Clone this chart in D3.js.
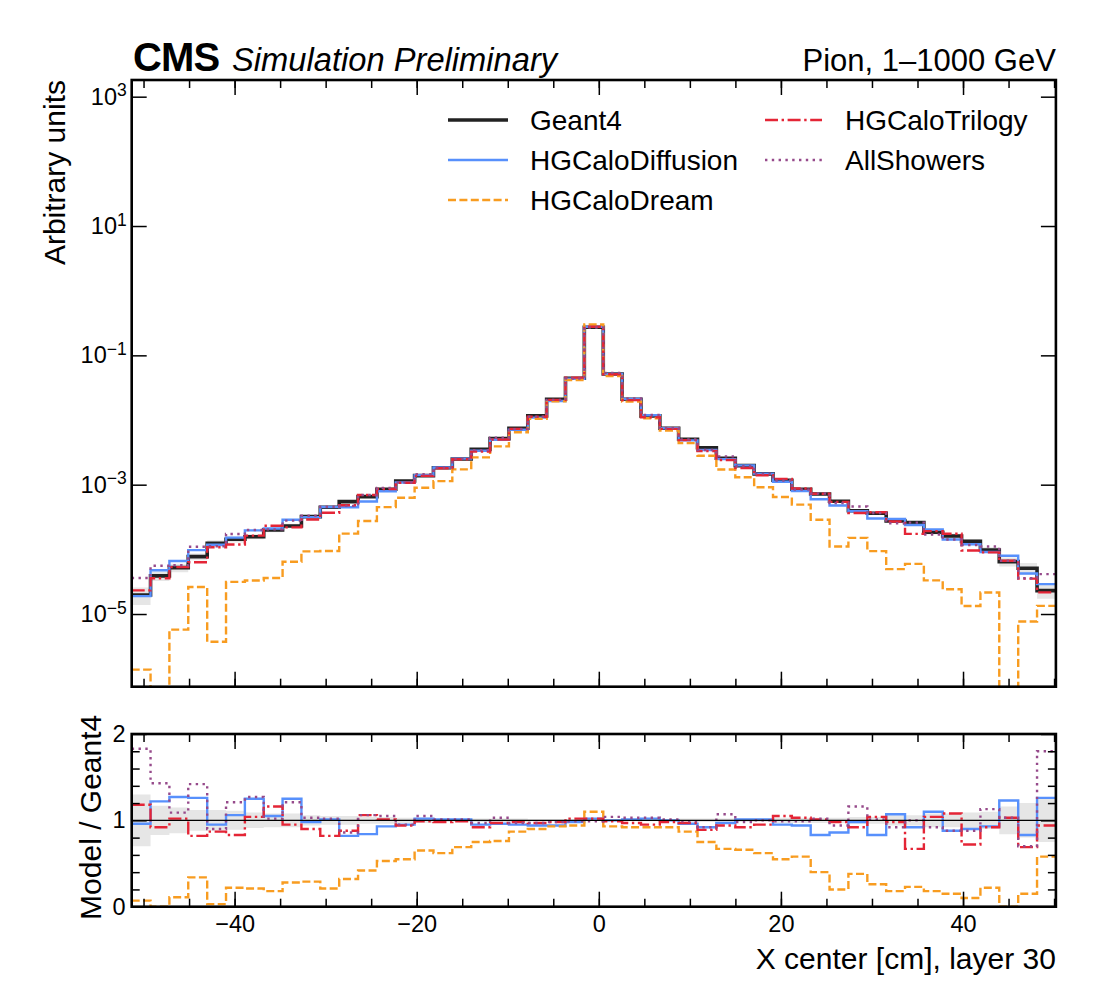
<!DOCTYPE html>
<html>
<head>
<meta charset="utf-8">
<script src="https://cdn.jsdelivr.net/npm/d3@7"></script>
<style>
  html, body { margin: 0; padding: 0; background: #fff; }
  svg { display: block; font-family: "Liberation Sans", Arial, Helvetica, sans-serif; }
</style>
</head>
<body>
<svg id="chart" width="1100" height="1008"></svg>
<script>
// ---------------- DATA ----------------
const xEdges = [-51.30, -49.23, -47.16, -45.09, -43.01, -40.94, -38.87, -36.80, -34.73, -32.66,
  -30.59, -28.51, -26.44, -24.37, -22.30, -20.23, -18.16, -16.09, -14.01, -11.94,
  -9.87, -7.80, -5.73, -3.66, -1.59, 0.49, 2.56, 4.63, 6.70, 8.77,
  10.84, 12.91, 14.99, 17.06, 19.13, 21.20, 23.27, 25.34, 27.41, 29.49,
  31.56, 33.63, 35.70, 37.77, 39.84, 41.91, 43.98, 46.06, 48.13, 50.20];

const geant4 = [1.97e-5, 3.89e-5, 5.21e-5, 7.71e-5, 1.24e-4, 1.43e-4, 1.57e-4, 2.00e-4, 2.30e-4, 3.21e-4,
  4.48e-4, 5.47e-4, 6.53e-4, 8.49e-4, 1.14e-3, 1.38e-3, 1.83e-3, 2.50e-3, 3.53e-3, 5.15e-3,
  7.45e-3, 1.16e-2, 2.09e-2, 4.43e-2, 0.272, 5.15e-2, 2.09e-2, 1.16e-2, 7.45e-3, 5.04e-3,
  3.73e-3, 2.56e-3, 1.97e-3, 1.47e-3, 1.17e-3, 8.49e-4, 7.18e-4, 5.53e-4, 3.96e-4, 3.61e-4,
  2.75e-4, 2.59e-4, 1.84e-4, 1.61e-4, 1.33e-4, 9.77e-5, 6.46e-5, 5.11e-5, 2.30e-5];

const geant4RelErr = [0.30, 0.17, 0.15, 0.12, 0.12, 0.11, 0.09, 0.08, 0.08, 0.06,
  0.05, 0.05, 0.04, 0.04, 0.03, 0.03, 0.02, 0.02, 0.02, 0.02,
  0.02, 0.01, 0.01, 0.01, 0.005, 0.01, 0.01, 0.01, 0.01, 0.02,
  0.02, 0.02, 0.02, 0.02, 0.03, 0.03, 0.03, 0.03, 0.04, 0.04,
  0.06, 0.06, 0.08, 0.08, 0.09, 0.10, 0.16, 0.20, 0.25];

// Model / Geant4 ratios per bin
const ratioDiffusion = [0.96, 1.22, 1.27, 1.26, 0.95, 1.06, 1.25, 1.05, 1.25, 0.98,
  1.01, 0.82, 0.84, 0.93, 0.95, 1.02, 1.01, 1.01, 0.95, 0.96,
  0.95, 0.94, 0.94, 0.98, 1.02, 1.00, 1.01, 1.02, 1.00, 0.96,
  0.92, 0.97, 1.01, 1.01, 0.95, 0.94, 0.83, 0.86, 0.98, 0.83,
  1.07, 0.92, 1.10, 0.88, 0.90, 0.93, 1.23, 0.83, 1.26];

const ratioDream = [0.07, 0, 0.11, 0.34, 0.03, 0.22, 0.21, 0.18, 0.28, 0.29,
  0.21, 0.32, 0.42, 0.53, 0.55, 0.65, 0.62, 0.69, 0.75, 0.76,
  0.87, 0.90, 0.93, 0.94, 1.10, 0.93, 0.92, 0.92, 0.92, 0.87,
  0.75, 0.67, 0.66, 0.62, 0.55, 0.58, 0.40, 0.20, 0.38, 0.26,
  0.18, 0.23, 0.18, 0.15, 0.10, 0.22, 0, 0.15, 0.58];

const ratioTrilogy = [1.18, 0.92, 1.02, 0.82, 0.87, 0.83, 1.04, 1.16, 0.95, 0.90,
  0.82, 0.88, 1.06, 1.01, 0.94, 0.99, 0.98, 0.99, 0.92, 0.97,
  0.98, 0.97, 0.98, 1.02, 1.02, 0.99, 0.97, 0.95, 0.98, 0.97,
  0.89, 0.94, 0.92, 0.95, 1.05, 1.03, 1.01, 0.98, 0.92, 1.04,
  0.98, 0.67, 1.04, 1.08, 0.72, 0.92, 1.03, 0.69, 0.94];

const ratioAllShowers = [1.83, 1.43, 1.09, 1.42, 0.90, 1.21, 1.27, 1.02, 1.21, 1.03,
  1.02, 0.86, 1.06, 1.05, 0.95, 1.05, 1.01, 1.01, 0.97, 1.03,
  0.97, 0.97, 0.98, 0.99, 0.99, 1.04, 1.03, 1.03, 1.01, 0.99,
  0.92, 1.07, 0.98, 1.00, 0.99, 0.99, 1.02, 0.94, 1.16, 1.01,
  0.92, 1.00, 0.92, 0.88, 0.88, 1.13, 1.03, 0.70, 1.80];

const xMajorTicks = [-40, -20, 0, 20, 40];
const xMinorTicks = [-50, -45, -40, -35, -30, -25, -20, -15, -10, -5, 0, 5, 10, 15, 20, 25, 30, 35, 40, 45, 50];
const yMainTicks = [1e-5, 1e-3, 1e-1, 1e1, 1e3];
const yRatioMajor = [0, 1, 2];
const yRatioMinor = [0.2, 0.4, 0.6, 0.8, 1.2, 1.4, 1.6, 1.8];

const models = [
  { name: "HGCaloDiffusion", ratio: ratioDiffusion, color: "#5790fc", dash: null },
  { name: "HGCaloDream", ratio: ratioDream, color: "#f89c20", dash: "8,3.4" },
  { name: "HGCaloTrilogy", ratio: ratioTrilogy, color: "#e42536", dash: "13,3.6,2.4,3.6" },
  { name: "AllShowers", ratio: ratioAllShowers, color: "#964a8b", dash: "2.4,4.4" }
];

// ---------------- LAYOUT ----------------
const L = 131.7, R = 1055.9;
const mainTop = 80, mainBot = 686.7;
const ratTop = 734, ratBot = 906.7;
const FONT = '"Liberation Sans", Arial, Helvetica, sans-serif';

const svg = d3.select("#chart");

const x = d3.scaleLinear().domain([-51.3, 50.2]).range([L, R]);
const yMain = d3.scaleLog().domain([Math.pow(10, -6.124), Math.pow(10, 3.258)]).range([mainBot, mainTop]);
const yRatio = d3.scaleLinear().domain([0, 2]).range([ratBot, ratTop]);

const defs = svg.append("defs");
defs.append("clipPath").attr("id", "clipMain").append("rect")
  .attr("x", L).attr("y", mainTop).attr("width", R - L).attr("height", mainBot - mainTop);
defs.append("clipPath").attr("id", "clipRatio").append("rect")
  .attr("x", L).attr("y", ratTop).attr("width", R - L).attr("height", ratBot - ratTop);

function stepPoints(vals, yScale, isLog, floorY) {
  return xEdges.map((e, i) => {
    const v = vals[Math.min(i, vals.length - 1)];
    let yy;
    if (isLog && !(v > 0)) yy = floorY;
    else yy = yScale(v);
    return [x(e), yy];
  });
}
const stepLine = d3.line().curve(d3.curveStepAfter);

// ---------------- MAIN PANEL ----------------
const gMain = svg.append("g").attr("clip-path", "url(#clipMain)");

const bandArea = d3.area().curve(d3.curveStepAfter)
  .x(d => d[0]).y0(d => d[1]).y1(d => d[2]);
const bandMain = xEdges.map((e, i) => {
  const k = Math.min(i, geant4.length - 1);
  const v = geant4[k], err = geant4RelErr[k];
  return [x(e), yMain(Math.max(v * (1 - err), 1e-9)), yMain(v * (1 + err))];
});
gMain.append("path").attr("d", bandArea(bandMain)).attr("fill", "#e6e6e6").attr("stroke", "none");

gMain.append("path")
  .attr("d", stepLine(stepPoints(geant4, yMain, true, mainBot + 80)))
  .attr("fill", "none").attr("stroke", "#222222").attr("stroke-width", 3.6);

models.forEach(m => {
  const vals = geant4.map((g, i) => g * m.ratio[i]);
  gMain.append("path")
    .attr("d", stepLine(stepPoints(vals, yMain, true, mainBot + 80)))
    .attr("fill", "none").attr("stroke", m.color).attr("stroke-width", 2.4)
    .attr("stroke-dasharray", m.dash);
});

// ---------------- RATIO PANEL ----------------
const gRat = svg.append("g").attr("clip-path", "url(#clipRatio)");
const bandRat = xEdges.map((e, i) => {
  const k = Math.min(i, geant4.length - 1);
  const err = geant4RelErr[k];
  return [x(e), yRatio(1 - err), yRatio(1 + err)];
});
gRat.append("path").attr("d", bandArea(bandRat)).attr("fill", "#e6e6e6").attr("stroke", "none");

models.forEach(m => {
  gRat.append("path")
    .attr("d", stepLine(stepPoints(m.ratio, yRatio, false, 0)))
    .attr("fill", "none").attr("stroke", m.color).attr("stroke-width", 2.4)
    .attr("stroke-dasharray", m.dash);
});
gRat.append("line")
  .attr("x1", L).attr("x2", R).attr("y1", yRatio(1)).attr("y2", yRatio(1))
  .attr("stroke", "#000").attr("stroke-width", 1.3);

// ---------------- AXES ----------------
function styleAxis(g, fontSize) {
  g.select(".domain").remove();
  g.selectAll(".tick line").attr("stroke", "#000").attr("stroke-width", 1.5);
  g.selectAll(".tick text").attr("font-family", FONT).attr("font-size", fontSize).attr("fill", "#000");
}
const MAJ = 15, MIN = 8;

[[mainBot, d3.axisBottom], [mainTop, d3.axisTop]].forEach(([yy, ax]) => {
  svg.append("g").attr("transform", `translate(0,${yy})`)
    .call(ax(x).tickValues(xMinorTicks).tickSize(-MIN).tickFormat(""))
    .call(g => styleAxis(g, 23));
  svg.append("g").attr("transform", `translate(0,${yy})`)
    .call(ax(x).tickValues(xMajorTicks).tickSize(-MAJ).tickFormat(""))
    .call(g => styleAxis(g, 23));
});
svg.append("g").attr("transform", `translate(0,${ratTop})`)
  .call(d3.axisTop(x).tickValues(xMinorTicks).tickSize(-MIN).tickFormat(""))
  .call(g => styleAxis(g, 23));
svg.append("g").attr("transform", `translate(0,${ratTop})`)
  .call(d3.axisTop(x).tickValues(xMajorTicks).tickSize(-MAJ).tickFormat(""))
  .call(g => styleAxis(g, 23));
svg.append("g").attr("transform", `translate(0,${ratBot})`)
  .call(d3.axisBottom(x).tickValues(xMinorTicks).tickSize(-MIN).tickFormat(""))
  .call(g => styleAxis(g, 23));
svg.append("g").attr("transform", `translate(0,${ratBot})`)
  .call(d3.axisBottom(x).tickValues(xMajorTicks).tickSize(-MAJ).tickPadding(9)
    .tickFormat(d => d < 0 ? "\u2212" + Math.abs(d) : String(d)))
  .call(g => styleAxis(g, 23.5));

const gyL = svg.append("g").attr("transform", `translate(${L},0)`)
  .call(d3.axisLeft(yMain).tickValues(yMainTicks).tickSize(-MAJ).tickPadding(5).tickFormat(() => ""))
  .call(g => styleAxis(g, 23.5));
gyL.selectAll(".tick text").each(function (d) {
  const e = Math.round(Math.log10(d));
  const t = d3.select(this);
  t.text(null);
  t.append("tspan").text("10");
  t.append("tspan").attr("dy", "-0.48em").attr("font-size", 17.5)
    .text(e < 0 ? "\u2212" + Math.abs(e) : String(e));
});
svg.append("g").attr("transform", `translate(${R},0)`)
  .call(d3.axisRight(yMain).tickValues(yMainTicks).tickSize(-MAJ).tickFormat(""))
  .call(g => styleAxis(g, 23));

svg.append("g").attr("transform", `translate(${L},0)`)
  .call(d3.axisLeft(yRatio).tickValues(yRatioMinor).tickSize(-MIN).tickFormat(""))
  .call(g => styleAxis(g, 23));
svg.append("g").attr("transform", `translate(${L},0)`)
  .call(d3.axisLeft(yRatio).tickValues(yRatioMajor).tickSize(-MAJ).tickPadding(6).tickFormat(d3.format("d")))
  .call(g => styleAxis(g, 23.5));
svg.append("g").attr("transform", `translate(${R},0)`)
  .call(d3.axisRight(yRatio).tickValues(yRatioMinor).tickSize(-MIN).tickFormat(""))
  .call(g => styleAxis(g, 23));
svg.append("g").attr("transform", `translate(${R},0)`)
  .call(d3.axisRight(yRatio).tickValues(yRatioMajor).tickSize(-MAJ).tickFormat(""))
  .call(g => styleAxis(g, 23));

svg.append("rect").attr("x", L).attr("y", mainTop).attr("width", R - L).attr("height", mainBot - mainTop)
  .attr("fill", "none").attr("stroke", "#000").attr("stroke-width", 2.6);
svg.append("rect").attr("x", L).attr("y", ratTop).attr("width", R - L).attr("height", ratBot - ratTop)
  .attr("fill", "none").attr("stroke", "#000").attr("stroke-width", 2.6);

// ---------------- LABELS ----------------
svg.append("text").attr("x", 133).attr("y", 70.7)
  .attr("font-family", FONT).attr("font-weight", "bold").attr("font-size", 40)
  .attr("letter-spacing", -0.8).text("CMS");
svg.append("text").attr("x", 232).attr("y", 70.5)
  .attr("font-family", FONT).attr("font-style", "italic").attr("font-size", 32.7)
  .text("Simulation Preliminary");
svg.append("text").attr("x", R).attr("y", 70.5).attr("text-anchor", "end")
  .attr("font-family", FONT).attr("font-size", 31)
  .text("Pion, 1\u20131000 GeV");

svg.append("text").attr("transform", `translate(65,${mainTop}) rotate(-90)`)
  .attr("text-anchor", "end").attr("font-family", FONT).attr("font-size", 30)
  .text("Arbitrary units");
svg.append("text").attr("transform", `translate(101,${(ratTop + ratBot) / 2 - 3}) rotate(-90)`)
  .attr("text-anchor", "middle").attr("font-family", FONT).attr("font-size", 30)
  .text("Model / Geant4");
svg.append("text").attr("x", R).attr("y", 969).attr("text-anchor", "end")
  .attr("font-family", FONT).attr("font-size", 30)
  .text("X center [cm], layer 30");

// ---------------- LEGEND ----------------
const legendItems = [
  { name: "Geant4", color: "#222222", width: 3.6, dash: null, col: 0, row: 0 },
  { name: models[0].name, color: models[0].color, width: 2.4, dash: models[0].dash, col: 0, row: 1 },
  { name: models[1].name, color: models[1].color, width: 2.4, dash: models[1].dash, col: 0, row: 2 },
  { name: models[2].name, color: models[2].color, width: 2.4, dash: models[2].dash, col: 1, row: 0 },
  { name: models[3].name, color: models[3].color, width: 2.4, dash: models[3].dash, col: 1, row: 1 }
];
const colX = [{ h0: 448, h1: 508, t: 530 }, { h0: 765, h1: 822, t: 845 }];
const rowY = [120, 160, 200];
const gLeg = svg.append("g");
legendItems.forEach(it => {
  const c = colX[it.col], yy = rowY[it.row];
  gLeg.append("line").attr("x1", c.h0).attr("x2", c.h1).attr("y1", yy).attr("y2", yy)
    .attr("stroke", it.color).attr("stroke-width", it.width).attr("stroke-dasharray", it.dash);
  gLeg.append("text").attr("x", c.t).attr("y", yy + 9.8)
    .attr("font-family", FONT).attr("font-size", 28).text(it.name);
});
</script>
</body>
</html>
